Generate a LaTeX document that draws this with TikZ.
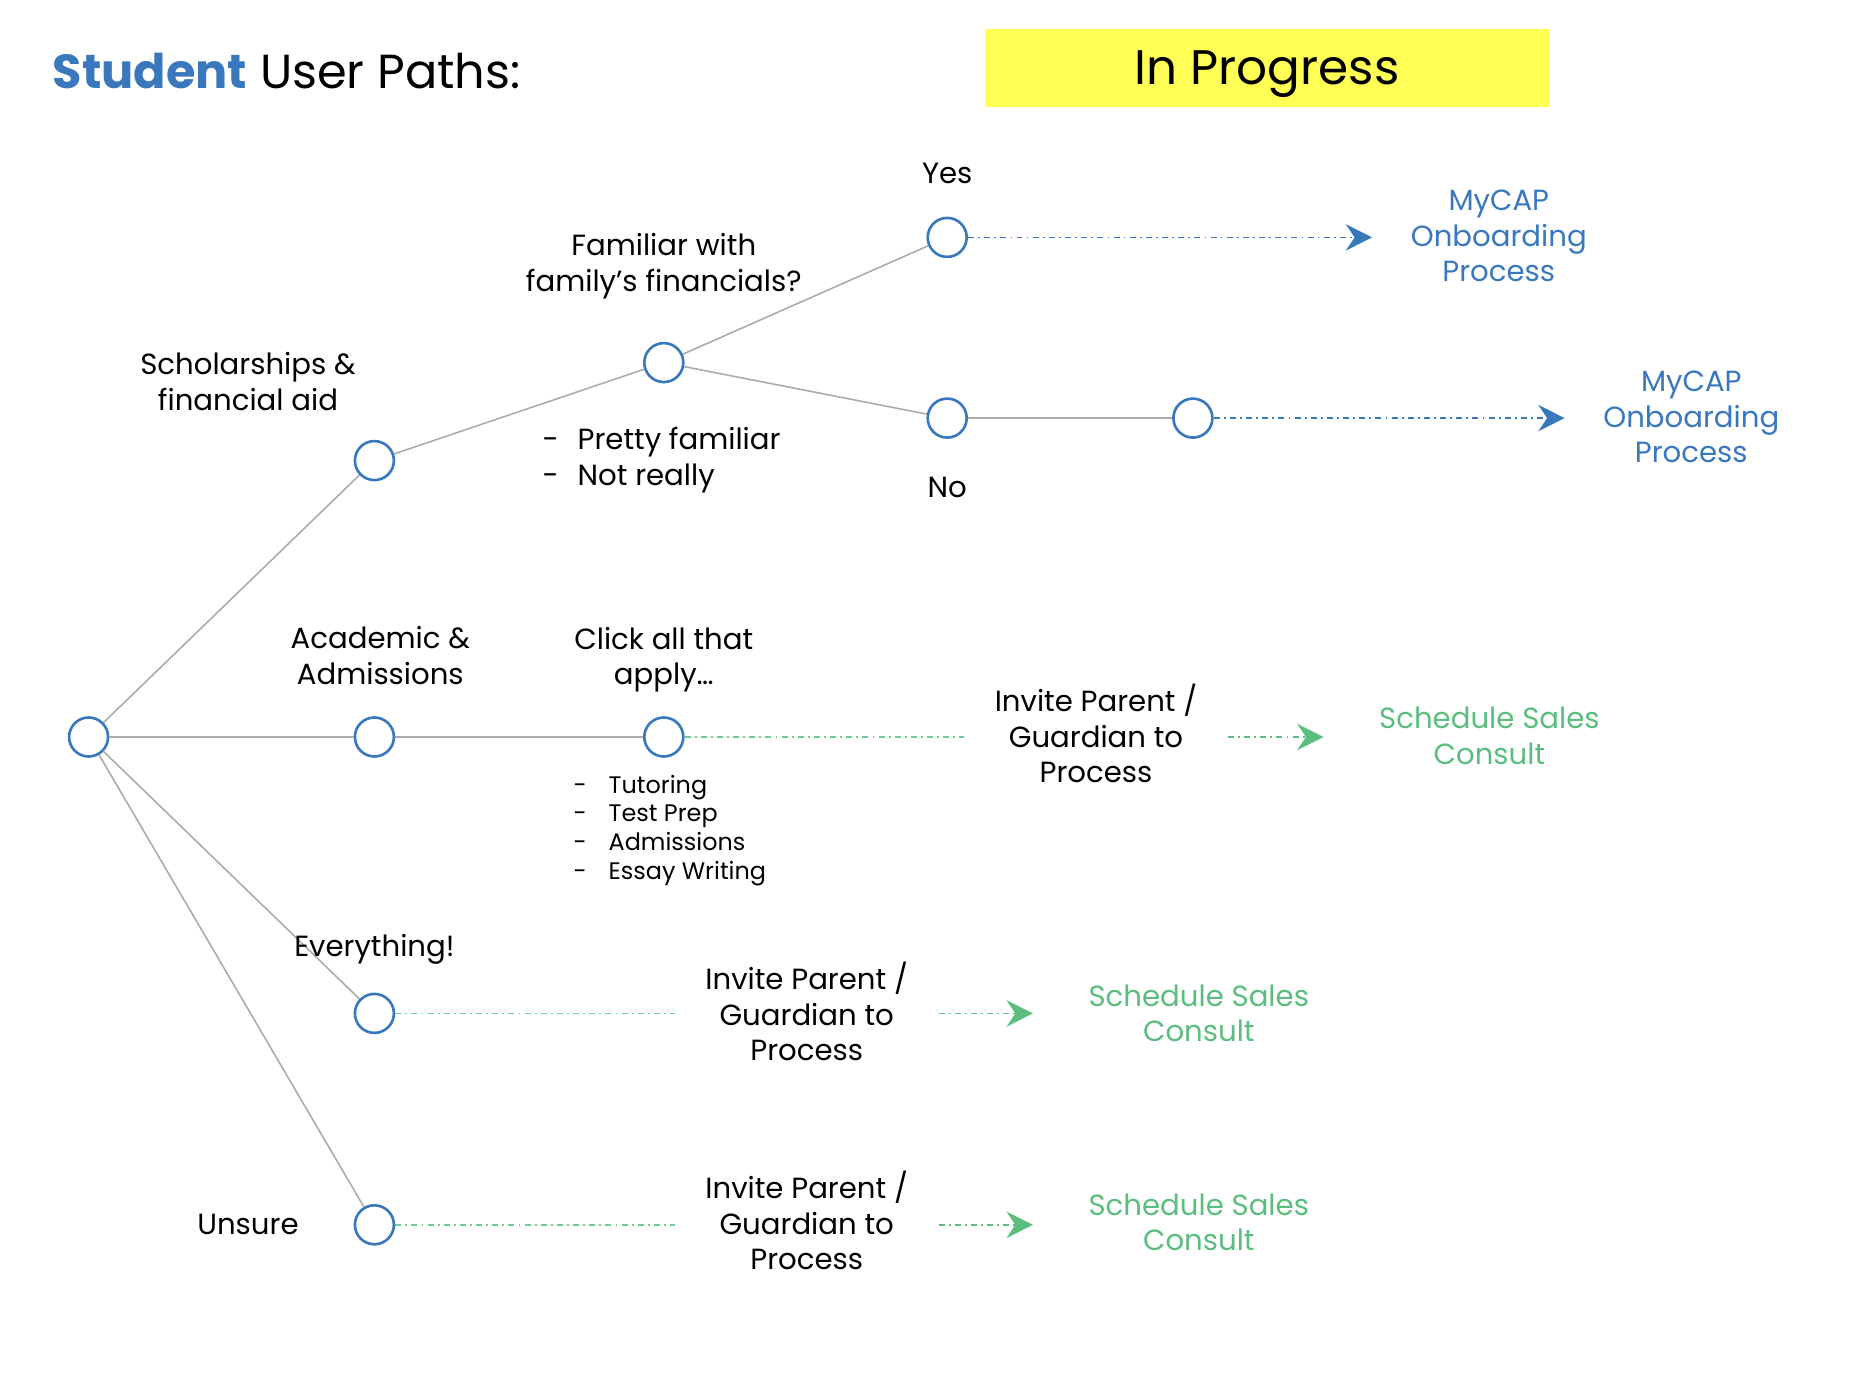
\documentclass[tikz,border=0pt]{standalone}
\usepackage{fontspec}
\setmainfont{Poppins}
\usetikzlibrary{arrows.meta}
\definecolor{pathblue}{HTML}{3A78BE}
\definecolor{pathgreen}{HTML}{5BBD7E}
\definecolor{dashgreen}{HTML}{6CCF98}
\definecolor{linegray}{HTML}{ABABAB}
\definecolor{flagyellow}{HTML}{FFFF55}
\def\dashitem#1{\makebox[0.35cm][l]{-}#1}
\tikzset{
	dot/.style={circle, draw=pathblue, line width=0.75pt, minimum size=0.39cm, inner sep=0pt},
	branch/.style={draw=linegray, line width=0.45pt},
	lbl/.style={align=center, inner sep=0pt, font=\fontsize{8.3}{10.1}\selectfont},
	lst/.style={align=left, inner sep=0pt, anchor=west},
	flowdash/.style={line width=0.45pt, dash pattern=on 1.7pt off 1.2pt on 0.5pt off 1.2pt},
	bluego/.style={flowdash, draw=pathblue, -{Stealth[length=7.5pt,width=7.5pt,inset=2.5pt]}, shorten >=0.38cm},
	greenline/.style={flowdash, draw=dashgreen, shorten >=0.3cm},
	greengo/.style={flowdash, draw=pathgreen, -{Stealth[length=7.5pt,width=7.5pt,inset=2.5pt]}, shorten <=0.3cm, shorten >=0.55cm}
}
\begin{document}
\begin{tikzpicture}
		%%%%% FRAME %%%%%
		\useasboundingbox (0, 0) rectangle (18.52, 13.73);
		
		\node[anchor=base west, inner sep=0pt, font=\fontsize{13.6}{16}\selectfont] (title) at (0.52, 12.844) {\textcolor{pathblue}{\textbf{Student}} User Paths:};
		\fill[flagyellow] (9.85, 12.66) rectangle (15.49, 13.435);
		\node[anchor=base, inner sep=0pt, font=\fontsize{13.8}{16}\selectfont] (status) at (12.67, 12.88) {In Progress};
		
		%%%%% TREE %%%%%
		\node[dot] (root) at (0.886, 6.36) {};
		\node[dot] (sch) at (3.744, 9.124) {};
		\node[dot] (aca) at (3.744, 6.36) {};
		\node[dot] (evr) at (3.744, 3.596) {};
		\node[dot] (uns) at (3.744, 1.482) {};
		\node[dot] (fam) at (6.638, 10.104) {};
		\node[dot] (yes) at (9.472, 11.356) {};
		\node[dot] (no) at (9.472, 9.549) {};
		\node[dot] (nxt) at (11.929, 9.549) {};
		\node[dot] (clk) at (6.638, 6.36) {};
		
		\draw[branch] (root) -- (sch);
		\draw[branch] (root) -- (aca);
		\draw[branch] (root) -- (evr);
		\draw[branch] (root) -- (uns);
		\draw[branch] (sch) -- (fam);
		\draw[branch] (fam) -- (yes);
		\draw[branch] (fam) -- (no);
		\draw[branch] (no) -- (nxt);
		\draw[branch] (aca) -- (clk);
		
		%%%%% LABELS %%%%%
		\node[lbl] (schtxt) at (2.48, 9.915) {Scholarships \&\\financial aid};
		\node[lbl] (famtxt) at (6.638, 11.068) {Familiar with\\family’s financials?};
		\node[lbl] (yestxt) at (9.472, 11.994) {Yes};
		\node[lbl] (notxt) at (9.472, 8.852) {No};
		\node[lbl, lst] (famlist) at (5.42, 9.13) {\dashitem{Pretty familiar}\\\dashitem{Not really}};
		\node[lbl] (acatxt) at (3.803, 7.175) {Academic \&\\Admissions};
		\node[lbl] (clktxt) at (6.638, 7.135) {Click all that\\apply…};
		\node[lbl, lst, font=\fontsize{6.8}{8.2}\selectfont] (clklist) at (5.73, 5.425) {\dashitem{Tutoring}\\\dashitem{Test Prep}\\\dashitem{Admissions}\\\dashitem{Essay Writing}};
		\node[lbl] (evrtxt) at (3.744, 4.235) {Everything!};
		\node[lbl] (unstxt) at (2.48, 1.482) {Unsure};
		
		%%%%% OUTCOMES %%%%%
		\node[lbl, text=pathblue] (cap1) at (14.988, 11.368) {MyCAP\\Onboarding\\Process};
		\node[lbl, text=pathblue] (cap2) at (16.913, 9.56) {MyCAP\\Onboarding\\Process};
		\draw[bluego] (yes) -- (yes -| cap1.west);
		\draw[bluego] (nxt) -- (nxt -| cap2.west);
		
		\node[lbl] (inv1) at (10.96, 6.392) {Invite Parent /\\Guardian to\\Process};
		\node[lbl, text=pathgreen] (sal1) at (14.894, 6.372) {Schedule Sales\\Consult};
		\node[lbl] (inv2) at (8.067, 3.616) {Invite Parent /\\Guardian to\\Process};
		\node[lbl, text=pathgreen] (sal2) at (11.988, 3.596) {Schedule Sales\\Consult};
		\node[lbl] (inv3) at (8.067, 1.526) {Invite Parent /\\Guardian to\\Process};
		\node[lbl, text=pathgreen] (sal3) at (11.988, 1.506) {Schedule Sales\\Consult};
		
		\draw[greenline] (clk) -- (clk -| inv1.west);
		\draw[greengo] (clk -| inv1.east) -- (clk -| sal1.west);
		\draw[greenline] (evr) -- (evr -| inv2.west);
		\draw[greengo] (evr -| inv2.east) -- (evr -| sal2.west);
		\draw[greenline] (uns) -- (uns -| inv3.west);
		\draw[greengo] (uns -| inv3.east) -- (uns -| sal3.west);
		
		%%%%% END %%%%%
	\end{tikzpicture}
\end{document}
